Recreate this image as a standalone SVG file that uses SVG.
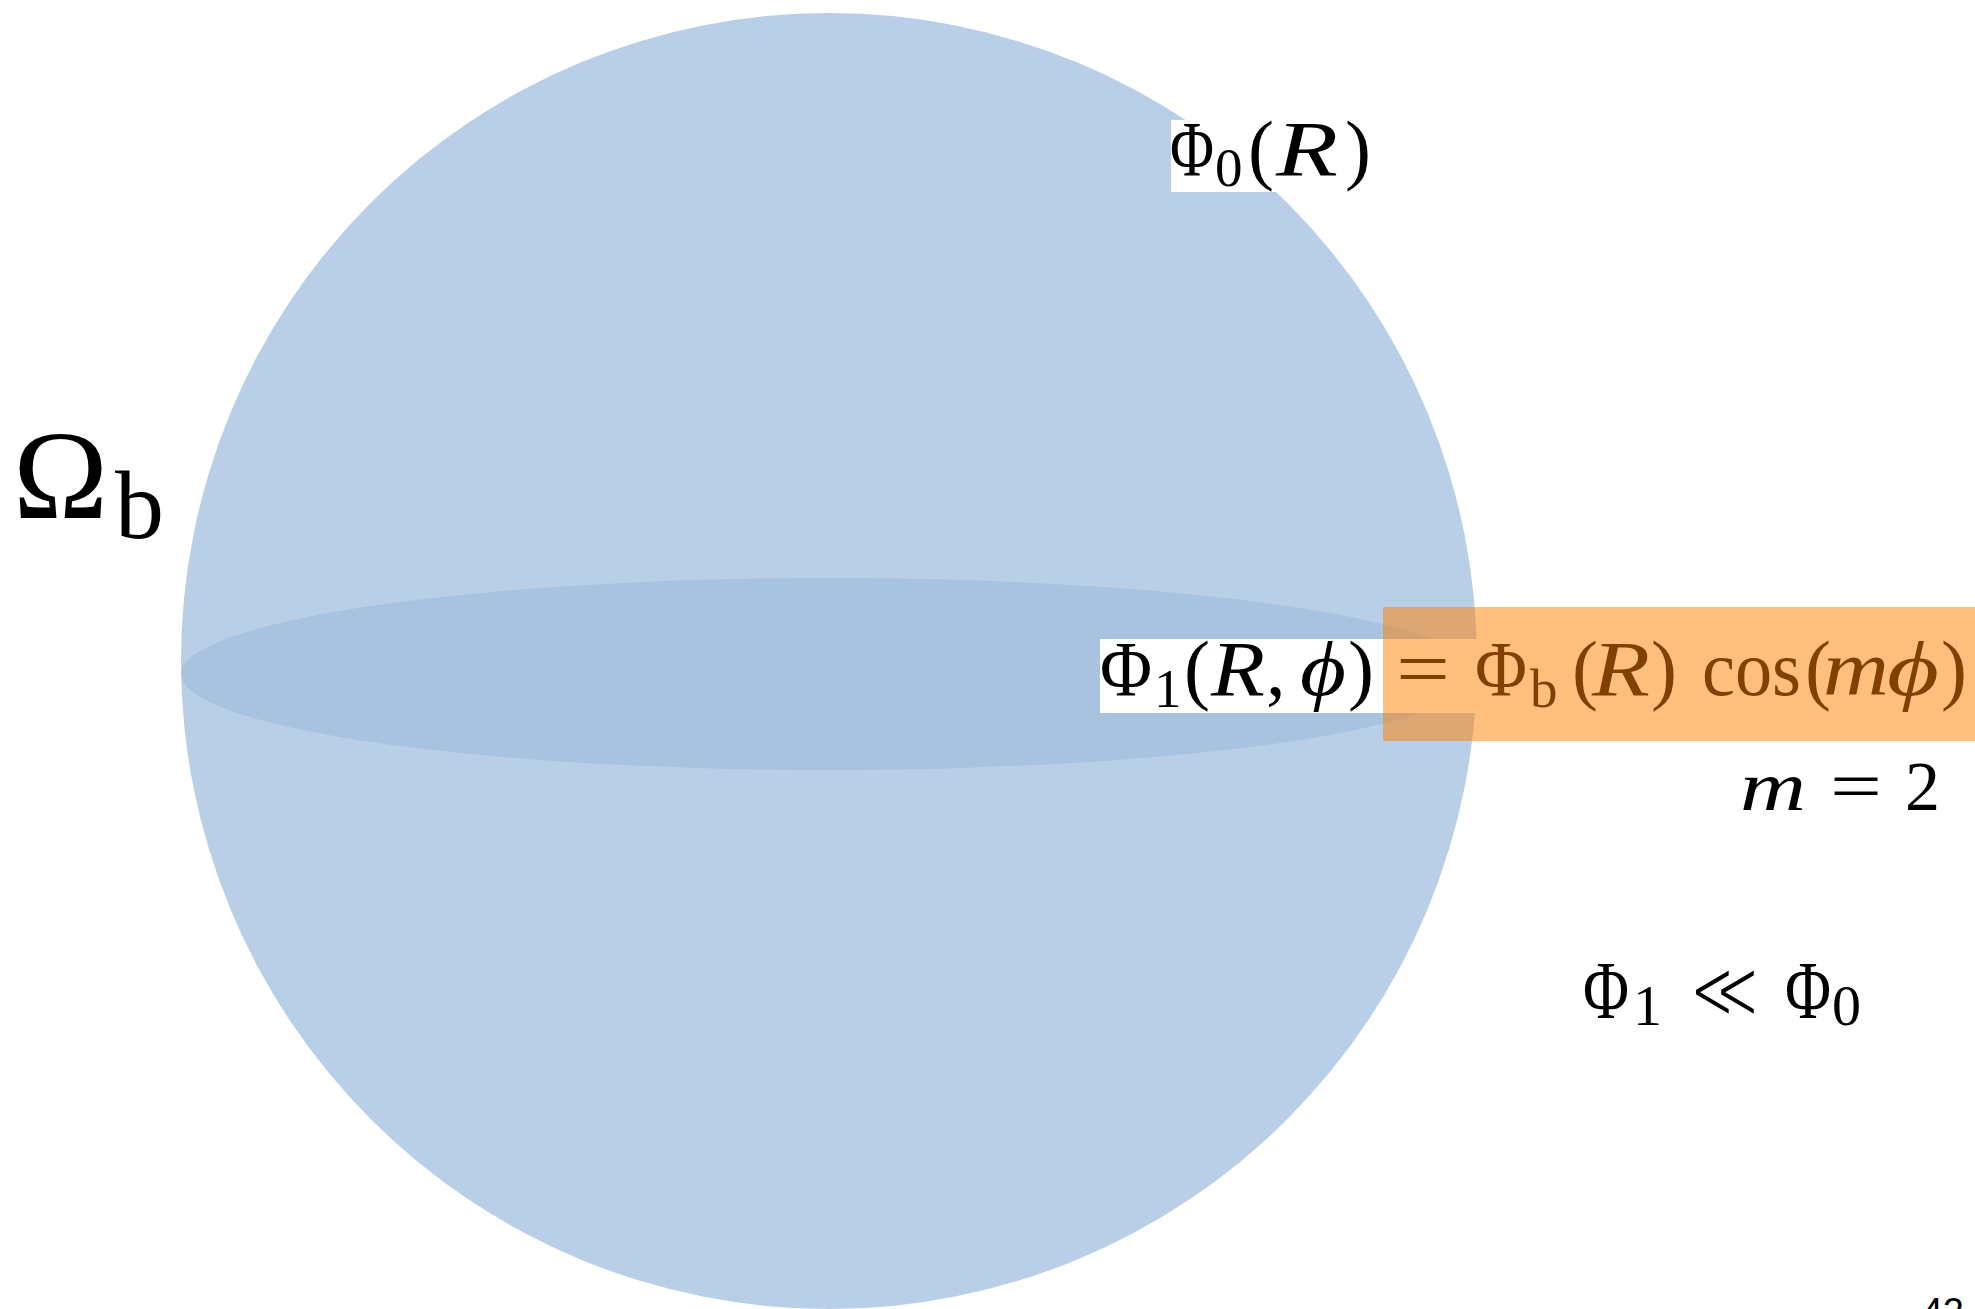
<svg xmlns="http://www.w3.org/2000/svg" width="1975" height="1309" viewBox="0 0 1975 1309">
<style>
text{font-family:"Liberation Serif","DejaVu Serif",serif;fill:#000}
.i{font-style:italic}
.big{font-size:78px}
.sub{font-size:55px}
.mid{font-size:70px}
.ll{font-size:82px}
.sub2{font-size:58px}
.num{font-family:"Liberation Sans",Arial,sans-serif;font-size:38px}
.thin{stroke:#fff;stroke-width:3px}
</style>
<rect width="1975" height="1309" fill="#fff"/>
<g id="sphere">
<circle cx="829" cy="661" r="648" fill="#b9cfe7"/>
<ellipse cx="829" cy="674" rx="648" ry="96" fill="#a7c3e0"/>
</g>
<g id="connectors"/>
<g id="label-omega">
<text x="13" y="518" font-size="128">Ω</text>
<text x="115" y="538" font-size="98">b</text>
</g>
<g id="label-phi0">
<rect x="1171" y="120" width="196" height="72" fill="#fff"/>
<text class="big" x="1170" y="175" textLength="44" lengthAdjust="spacingAndGlyphs">Φ</text>
<text class="sub" x="1215" y="186">0</text>
<text class="big" x="1248" y="175">(</text>
<text class="big i" x="1276" y="175" textLength="62" lengthAdjust="spacingAndGlyphs">R</text>
<text class="big" x="1345" y="175">)</text>
</g>
<g id="equation">
<rect x="1100" y="639" width="400" height="74" fill="#fff"/>
<text class="big" x="1100" y="695" textLength="52" lengthAdjust="spacingAndGlyphs">Φ</text>
<text class="sub" x="1154" y="707">1</text>
<text class="big" x="1184" y="695">(</text>
<text class="big i" x="1211" y="695" textLength="54" lengthAdjust="spacingAndGlyphs">R</text>
<text class="big" x="1266" y="695">,</text>
<text class="big i" x="1300" y="695" textLength="46" lengthAdjust="spacingAndGlyphs">ϕ</text>
<text class="big" x="1348" y="695">)</text>
<text class="big" x="1396" y="695" textLength="54" lengthAdjust="spacingAndGlyphs">=</text>
<text class="big" x="1475" y="695" textLength="52" lengthAdjust="spacingAndGlyphs">Φ</text>
<text class="sub" x="1530" y="707">b</text>
<text class="big" x="1572" y="695">(</text>
<text class="big i" x="1592" y="695" textLength="58" lengthAdjust="spacingAndGlyphs">R</text>
<text class="big" x="1651" y="695">)</text>
<text class="big" x="1702" y="695" textLength="99" lengthAdjust="spacingAndGlyphs">cos</text>
<text class="big" x="1805" y="695">(</text>
<text class="big i" x="1823" y="695" textLength="66" lengthAdjust="spacingAndGlyphs">m</text>
<text class="big i" x="1887" y="695" textLength="52" lengthAdjust="spacingAndGlyphs">ϕ</text>
<text class="big" x="1941" y="695">)</text>
<rect x="1383" y="607" width="592" height="134" fill="#ff8000" fill-opacity="0.5"/>
</g>
<g id="label-m">
<text class="mid i" x="1740" y="810" textLength="66" lengthAdjust="spacingAndGlyphs">m</text>
<text class="mid" x="1830" y="810" textLength="52" lengthAdjust="spacingAndGlyphs">=</text>
<text class="mid" x="1905" y="810" textLength="35" lengthAdjust="spacingAndGlyphs">2</text>
</g>
<g id="label-ll">
<text class="ll" x="1583" y="1018" textLength="46" lengthAdjust="spacingAndGlyphs">Φ</text>
<text class="sub2" x="1633" y="1025">1</text>
<text class="ll thin" x="1690" y="1018" textLength="70" lengthAdjust="spacingAndGlyphs">≪</text>
<text class="ll" x="1785" y="1018" textLength="46" lengthAdjust="spacingAndGlyphs">Φ</text>
<text class="sub2" x="1832" y="1025">0</text>
</g>
<g id="page-number">
<text class="num" x="1964" y="1325" text-anchor="end">42</text>
</g>
</svg>
